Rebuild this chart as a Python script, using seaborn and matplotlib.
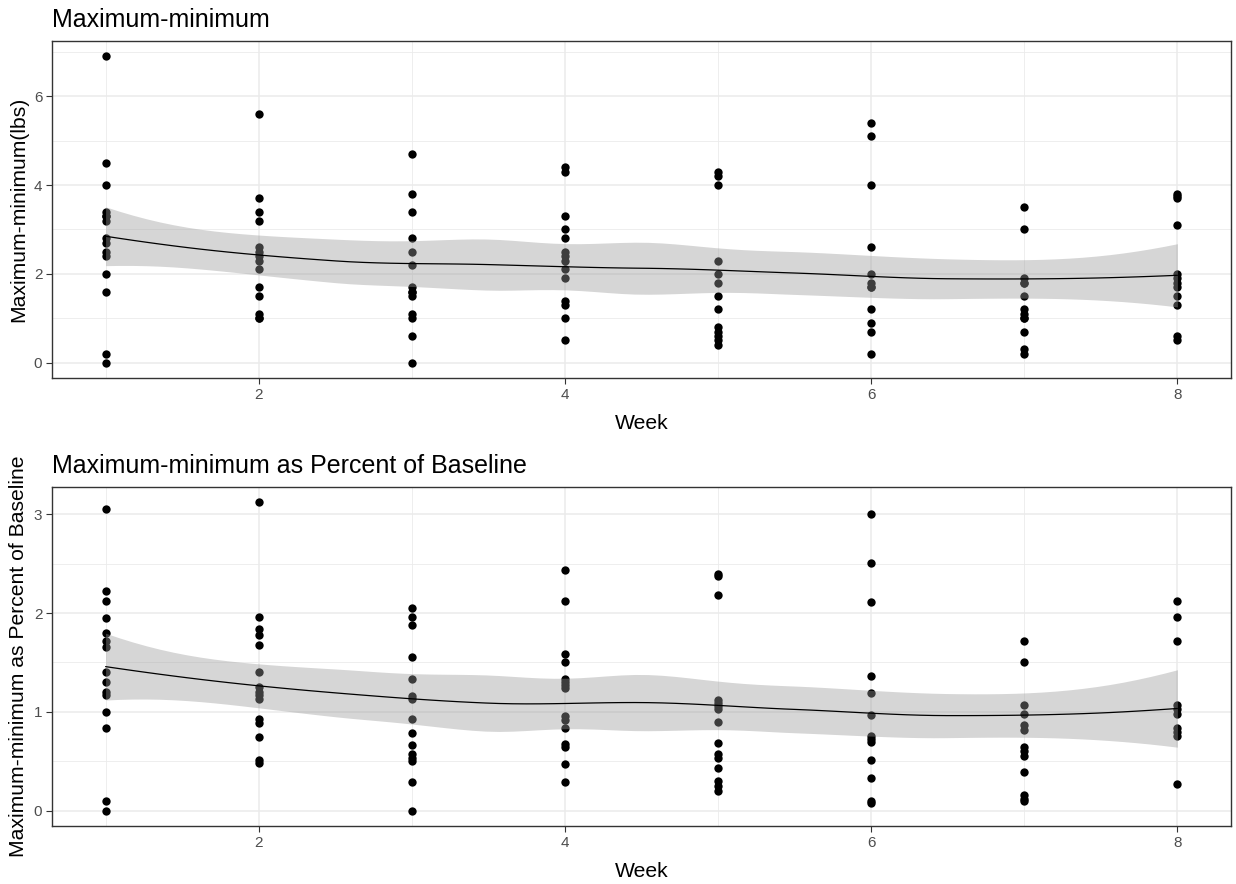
import numpy as np
import pandas as pd
import matplotlib
matplotlib.use("Agg")
import matplotlib.pyplot as plt
import seaborn as sns

# ---------------- data ----------------
weeks = [1, 2, 3, 4, 5, 6, 7, 8]

maxmin_lbs = {
    1: [6.9, 4.5, 4.0, 3.4, 3.3, 3.3, 3.2, 2.8, 2.7, 2.5, 2.4, 2.0, 1.6, 0.2, 0.0],
    2: [5.6, 3.7, 3.4, 3.2, 2.6, 2.5, 2.4, 2.3, 2.1, 1.7, 1.5, 1.1, 1.0, 1.0],
    3: [4.7, 3.8, 3.4, 2.8, 2.5, 2.2, 1.7, 1.6, 1.6, 1.5, 1.1, 1.0, 0.6, 0.0],
    4: [4.4, 4.3, 3.3, 3.0, 2.8, 2.5, 2.4, 2.3, 2.1, 1.9, 1.4, 1.3, 1.0, 0.5],
    5: [4.3, 4.2, 4.0, 2.3, 2.0, 1.8, 1.5, 1.2, 0.8, 0.7, 0.6, 0.5, 0.4],
    6: [5.4, 5.1, 4.0, 2.6, 2.0, 1.8, 1.7, 1.7, 1.2, 0.9, 0.7, 0.2],
    7: [3.5, 3.0, 1.9, 1.8, 1.8, 1.5, 1.2, 1.1, 1.0, 1.0, 0.7, 0.3, 0.2],
    8: [3.8, 3.75, 3.7, 3.1, 2.0, 1.9, 1.8, 1.7, 1.5, 1.3, 0.6, 0.5],
}

maxmin_pct = {
    1: [3.05, 2.22, 2.12, 1.95, 1.80, 1.72, 1.66, 1.40, 1.30, 1.20, 1.17, 1.00, 0.84, 0.10, 0.00],
    2: [3.12, 1.96, 1.84, 1.78, 1.68, 1.40, 1.25, 1.20, 1.17, 1.13, 0.93, 0.89, 0.75, 0.51, 0.48],
    3: [2.05, 1.96, 1.88, 1.56, 1.33, 1.16, 1.13, 0.93, 0.79, 0.66, 0.57, 0.53, 0.50, 0.29, 0.00],
    4: [2.44, 2.12, 1.59, 1.50, 1.33, 1.30, 1.27, 1.24, 0.96, 0.92, 0.84, 0.67, 0.64, 0.47, 0.29],
    5: [2.40, 2.37, 2.18, 1.12, 1.09, 1.06, 1.03, 0.90, 0.68, 0.57, 0.53, 0.43, 0.30, 0.25, 0.20],
    6: [3.00, 2.51, 2.11, 1.36, 1.19, 0.97, 0.76, 0.72, 0.69, 0.51, 0.33, 0.10, 0.08],
    7: [1.72, 1.50, 1.07, 0.98, 0.87, 0.82, 0.64, 0.60, 0.55, 0.39, 0.16, 0.12, 0.10],
    8: [2.12, 1.96, 1.72, 1.07, 1.03, 0.98, 0.84, 0.80, 0.76, 0.27],
}

titles = ["Maximum-minimum", "Maximum-minimum as Percent of Baseline"]
ylabels = ["Maximum-minimum(lbs)", "Maximum-minimum as Percent of Baseline"]
xlabel = "Week"


def to_frame(d):
    rows = [(w, v) for w in weeks for v in d[w]]
    return pd.DataFrame(rows, columns=["Week", "value"])


# ------------- loess (degree 2, span 0.75, kd-tree + Hermite interpolation) -------------
def local_rows(x, x0, q):
    """Rows of the smoother operator: fitted value and slope at x0."""
    d = np.abs(x - x0)
    h = np.sort(d)[q - 1]
    h = max(h, 1e-12)
    u = d / h
    w = np.where(u < 1, (1 - u ** 3) ** 3, 0.0)
    X = np.column_stack([np.ones_like(x), x - x0, (x - x0) ** 2])
    XtW = X.T * w
    S = np.linalg.solve(X.T @ (X * w[:, None]), XtW)
    return S[0], S[1]


def kd_vertices(x, fc):
    xs = np.sort(x)
    n = len(xs)
    rng = xs[-1] - xs[0]
    mu = 0.005 * rng
    verts = {xs[0] - mu, xs[-1] + mu}

    def split(l, u):  # 0-based inclusive indices
        if u - l + 1 <= fc:
            return
        m = (l + u) // 2
        offset = 0
        found = None
        while l <= m + offset < u:
            if xs[m + offset] != xs[m + offset + 1]:
                found = m + offset
                break
            offset = -offset
            if offset >= 0:
                offset += 1
        if found is None:
            return
        v = 0.5 * (xs[found] + xs[found + 1])
        verts.add(v)
        split(l, found)
        split(found + 1, u)

    split(0, n - 1)
    return np.array(sorted(verts))


def t_quant(df, z=1.959964):
    return z + (z ** 3 + z) / (4 * df) + (5 * z ** 5 + 16 * z ** 3 + 3 * z) / (96 * df ** 2)


def loess_fit(x, y, grid, span=0.75, cell=0.2):
    x = np.asarray(x, float)
    y = np.asarray(y, float)
    n = len(x)
    q = int(np.floor(n * span))
    fc = int(np.floor(n * span * cell))
    V = kd_vertices(x, fc)
    vals, slopes = zip(*[local_rows(x, v, q) for v in V])
    vals = np.array(vals)
    slopes = np.array(slopes)

    def row(x0):
        k = np.clip(np.searchsorted(V, x0) - 1, 0, len(V) - 2)
        v0, v1 = V[k], V[k + 1]
        hh = v1 - v0
        t = (x0 - v0) / hh
        h00 = 2 * t ** 3 - 3 * t ** 2 + 1
        h10 = t ** 3 - 2 * t ** 2 + t
        h01 = -2 * t ** 3 + 3 * t ** 2
        h11 = t ** 3 - t ** 2
        return (h00 * vals[k] + h10 * hh * slopes[k]
                + h01 * vals[k + 1] + h11 * hh * slopes[k + 1])

    L = np.array([row(xi) for xi in x])
    IL = np.eye(n) - L
    M = IL.T @ IL
    d1 = np.trace(M)
    d2 = np.trace(M @ M)
    rss = np.sum((y - L @ y) ** 2)
    sigma = np.sqrt(rss / d1)
    tq = t_quant(d1 ** 2 / d2)
    R = np.array([row(g) for g in grid])
    fit = R @ y
    se = sigma * np.sqrt(np.sum(R ** 2, axis=1))
    return fit, fit - tq * se, fit + tq * se


# ---------------- figure ----------------
sns.set_style("white")
plt.rcParams["font.family"] = ["Liberation Sans", "DejaVu Sans"]

fig = plt.figure(figsize=(12.36, 8.84), dpi=100)
ax_pos = [
    [52 / 1236, 1 - 378 / 884, (1231 - 52) / 1236, (378 - 41) / 884],
    [52 / 1236, 1 - 826 / 884, (1231 - 52) / 1236, (826 - 487) / 884],
]
ylims = [(-0.345, 7.245), (-0.156, 3.276)]
yticks_major = [[0, 2, 4, 6], [0, 1, 2, 3]]
yticks_minor = [[1, 3, 5, 7], [0.5, 1.5, 2.5]]

for i, d in enumerate([maxmin_lbs, maxmin_pct]):
    df = to_frame(d)
    ax = fig.add_axes(ax_pos[i])
    ax.set_facecolor("white")
    ax.set_axisbelow(True)

    sns.scatterplot(data=df, x="Week", y="value", ax=ax, color="black",
                    s=36, linewidth=0, zorder=3, legend=False)

    grid = np.linspace(min(weeks), max(weeks), 80)
    fit, lo, hi = loess_fit(df["Week"].values, df["value"].values, grid)
    ax.fill_between(grid, lo, hi, color="#999999", alpha=0.4, linewidth=0, zorder=4)
    ax.plot(grid, fit, color="black", lw=0.9, zorder=5)

    ax.set_xlim(0.65, 8.35)
    ax.set_ylim(*ylims[i])
    ax.set_xticks([2, 4, 6, 8])
    ax.set_xticks([1, 3, 5, 7], minor=True)
    ax.set_yticks(yticks_major[i])
    ax.set_yticks(yticks_minor[i], minor=True)
    ax.set_xticklabels(["2", "4", "6", "8"])
    ax.set_yticklabels([str(v) for v in yticks_major[i]])
    ax.grid(True, which="major", color="#EBEBEB", lw=1.1, zorder=0)
    ax.grid(True, which="minor", color="#EBEBEB", lw=0.6, zorder=0)
    ax.tick_params(which="major", length=4, width=0.8, color="#333333",
                   labelsize=11, labelcolor="#4D4D4D", pad=3, bottom=True, left=True)
    ax.tick_params(which="minor", length=0)
    for sp in ax.spines.values():
        sp.set_color("#333333")
        sp.set_linewidth(1.0)
        sp.set_visible(True)
    ax.set_xlabel(xlabel, fontsize=15.2, color="black", labelpad=9)
    ax.set_ylabel(ylabels[i], fontsize=15.2, color="black", labelpad=4)
    ax.set_title(titles[i], loc="left", fontsize=18, color="black", pad=10)

fig.savefig("out.png", dpi=100, facecolor="white")
